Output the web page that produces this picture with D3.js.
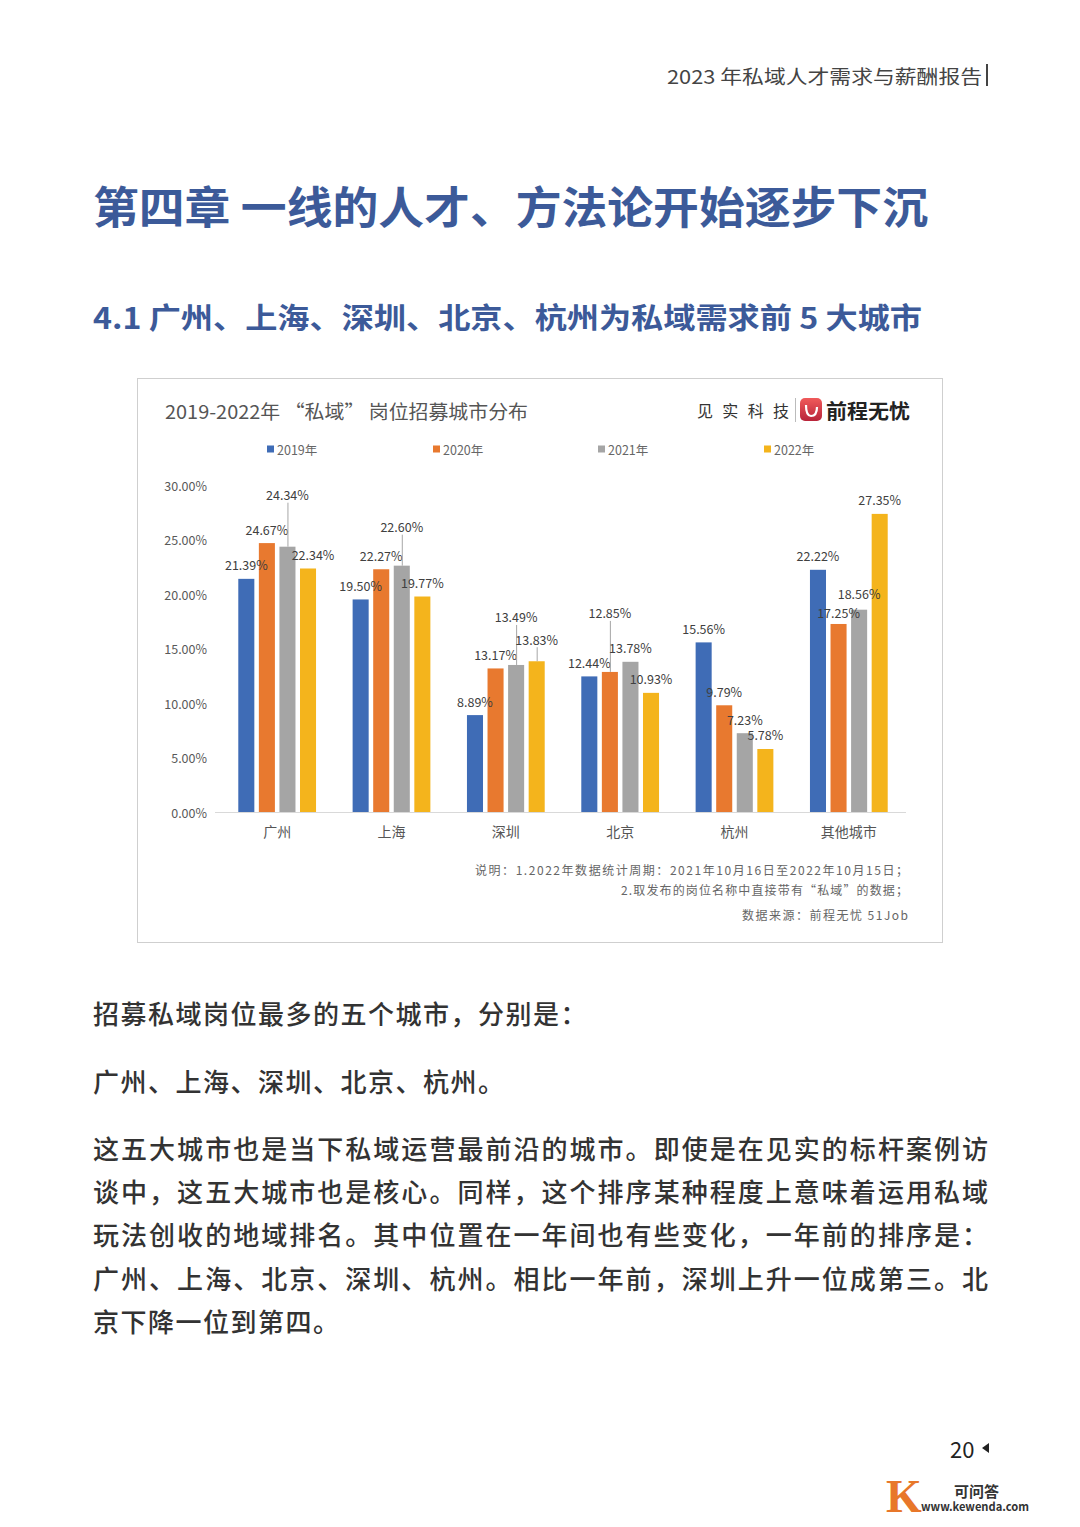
<!DOCTYPE html>
<html>
<head>
<meta charset="utf-8">
<script src="https://cdn.jsdelivr.net/npm/d3@7"></script>
<style>
  html, body { margin: 0; padding: 0; background: #fff; }
  svg { display: block; font-family: "Noto Sans CJK SC", "Noto Sans", sans-serif; }
</style>
</head>
<body>
<svg id="page" width="1080" height="1527"></svg>
<script>
// data
const cities = ["广州", "上海", "深圳", "北京", "杭州", "其他城市"];
const years = ["2019年", "2020年", "2021年", "2022年"];
const v2019 = [21.39, 19.50, 8.89, 12.44, 15.56, 22.22];
const v2020 = [24.67, 22.27, 13.17, 12.85, 9.79, 17.25];
const v2021 = [24.34, 22.60, 13.49, 13.78, 7.23, 18.56];
const v2022 = [22.34, 19.77, 13.83, 10.93, 5.78, 27.35];
const yTicks = [0, 5, 10, 15, 20, 25, 30];
const colors = ["#3f6cb6", "#e8792f", "#a5a5a5", "#f4b41c"];

// labels that sit higher with a leader line (px lift), and small nudges
const labelLift = { "广州|2021年": 38, "上海|2021年": 25, "深圳|2021年": 34, "深圳|2022年": 8, "北京|2020年": 45 };
const labelNudge = { "广州|2022年": 5 };
const labelDrop = { "其他城市|2020年": 3, "其他城市|2021年": -2 };

const svg = d3.select("#page");

// ---- page header & headings
svg.append("text")
    .attr("x", 667).attr("y", 75).attr("dominant-baseline", "central")
    .attr("font-size", 19).attr("fill", "#444")
    .attr("textLength", 315).attr("lengthAdjust", "spacingAndGlyphs")
    .text("2023 年私域人才需求与薪酬报告");
svg.append("rect").attr("x", 986).attr("y", 64).attr("width", 2).attr("height", 22).attr("fill", "#444");

svg.append("text")
    .attr("x", 93).attr("y", 205).attr("dominant-baseline", "central")
    .attr("font-size", 44).attr("font-weight", 700).attr("fill", "#3c5a99")
    .attr("textLength", 835).attr("lengthAdjust", "spacingAndGlyphs")
    .text("第四章 一线的人才、方法论开始逐步下沉");

svg.append("text")
    .attr("x", 93).attr("y", 316).attr("dominant-baseline", "central")
    .attr("font-size", 29).attr("font-weight", 700).attr("fill", "#3c5a99")
    .attr("textLength", 829).attr("lengthAdjust", "spacingAndGlyphs")
    .text("4.1 广州、上海、深圳、北京、杭州为私域需求前 5 大城市");

// ---- chart frame
svg.append("rect")
    .attr("x", 137.5).attr("y", 378.5).attr("width", 805).attr("height", 564)
    .attr("fill", "#fff").attr("stroke", "#cfcfcf");

svg.append("text")
    .attr("x", 165).attr("y", 410).attr("dominant-baseline", "central")
    .attr("font-size", 19).attr("fill", "#555")
    .attr("textLength", 363).attr("lengthAdjust", "spacingAndGlyphs")
    .text("2019-2022年 “私域” 岗位招募城市分布");

// brand marks
svg.append("text")
    .attr("x", 697).attr("y", 410).attr("dominant-baseline", "central")
    .attr("font-size", 16).attr("fill", "#333")
    .attr("textLength", 92).attr("lengthAdjust", "spacing")
    .text("见实科技");
svg.append("line").attr("x1", 795.5).attr("x2", 795.5).attr("y1", 398).attr("y2", 422).attr("stroke", "#bbb");
const grad = svg.append("defs").append("linearGradient").attr("id", "qc").attr("x1", 0).attr("y1", 0).attr("x2", 0).attr("y2", 1);
grad.append("stop").attr("offset", "0%").attr("stop-color", "#f05a5a");
grad.append("stop").attr("offset", "100%").attr("stop-color", "#b8243a");
svg.append("rect").attr("x", 800).attr("y", 398).attr("width", 22).attr("height", 23).attr("rx", 5).attr("fill", "url(#qc)");
svg.append("path").attr("d", "M806,405 Q806,416 811,416 Q817,416 817,407").attr("fill", "none").attr("stroke", "#fff").attr("stroke-width", 2.2);
svg.append("text")
    .attr("x", 826).attr("y", 410).attr("dominant-baseline", "central")
    .attr("font-size", 20).attr("font-weight", 700).attr("fill", "#222")
    .attr("textLength", 84).attr("lengthAdjust", "spacingAndGlyphs")
    .text("前程无忧");

// legend
const legendX = [267, 433, 598, 764];
const legend = svg.append("g").selectAll("g").data(years).join("g")
    .attr("transform", (d, i) => `translate(${legendX[i]},449)`);
legend.append("rect").attr("x", 0).attr("y", -3.5).attr("width", 7).attr("height", 7).attr("fill", (d, i) => colors[i]);
legend.append("text").attr("x", 10).attr("dominant-baseline", "central")
    .attr("font-size", 12.5).attr("fill", "#666").text(d => d);

// ---- scales
const x0 = d3.scaleBand().domain(cities).range([220, 906]).paddingInner(0.32).paddingOuter(0.16);
const x1 = d3.scaleBand().domain(years).range([0, x0.bandwidth()]).paddingInner(0.22);
const y = d3.scaleLinear().domain([0, 30]).range([812, 485]);

// y axis labels
svg.append("g").selectAll("text").data(yTicks).join("text")
    .attr("x", 207).attr("y", d => y(d)).attr("dominant-baseline", "central")
    .attr("text-anchor", "end").attr("font-size", 12.5).attr("fill", "#595959")
    .text(d => d3.format(".2f")(d) + "%");

// baseline
svg.append("line").attr("x1", 215).attr("x2", 906).attr("y1", 812.5).attr("y2", 812.5).attr("stroke", "#d9d9d9");

// category labels
svg.append("g").selectAll("text").data(cities).join("text")
    .attr("x", d => x0(d) + x0.bandwidth() / 2).attr("y", 831).attr("dominant-baseline", "central")
    .attr("text-anchor", "middle").attr("font-size", 14).attr("fill", "#555")
    .text(d => d);

// bars
const series = [v2019, v2020, v2021, v2022];
const rows = [];
cities.forEach((c, ci) => years.forEach((yr, yi) => rows.push({ city: c, year: yr, yi, value: series[yi][ci] })));

svg.append("g").selectAll("rect").data(rows).join("rect")
    .attr("x", d => x0(d.city) + x1(d.year))
    .attr("y", d => y(d.value))
    .attr("width", x1.bandwidth())
    .attr("height", d => y(0) - y(d.value))
    .attr("fill", d => colors[d.yi]);

// value labels
const lab = svg.append("g");
rows.forEach(d => {
  const key = d.city + "|" + d.year;
  const cx = x0(d.city) + x1(d.year) + x1.bandwidth() / 2;
  const top = y(d.value);
  const lift = labelLift[key] || 0;
  const ly = top - 14 - lift + (labelDrop[key] || 0);
  if (lift > 0) {
    lab.append("line").attr("x1", cx + 0.5).attr("x2", cx + 0.5).attr("y1", ly + 8).attr("y2", top)
        .attr("stroke", "#a6a6a6").attr("stroke-width", 1);
  }
  lab.append("text")
      .attr("x", cx + (labelNudge[key] || 0)).attr("y", ly).attr("dominant-baseline", "central")
      .attr("text-anchor", "middle").attr("font-size", 12.5).attr("fill", "#404040")
      .text(d3.format(".2f")(d.value) + "%");
});

// footnotes
svg.append("text").attr("x", 908).attr("y", 869).attr("dominant-baseline", "central").attr("text-anchor", "end")
    .attr("font-size", 12).attr("fill", "#666").attr("textLength", 433).attr("lengthAdjust", "spacing")
    .text("说明：1.2022年数据统计周期：2021年10月16日至2022年10月15日；");
svg.append("text").attr("x", 908).attr("y", 889).attr("dominant-baseline", "central").attr("text-anchor", "end")
    .attr("font-size", 12).attr("fill", "#666").attr("textLength", 287).attr("lengthAdjust", "spacing")
    .text("2.取发布的岗位名称中直接带有“私域”的数据；");
svg.append("text").attr("x", 908).attr("y", 914).attr("dominant-baseline", "central").attr("text-anchor", "end")
    .attr("font-size", 12).attr("fill", "#666").attr("textLength", 166).attr("lengthAdjust", "spacing")
    .text("数据来源：前程无忧 51Job");

// ---- body text
const body = [
  { t: "招募私域岗位最多的五个城市，分别是：", y: 1012 },
  { t: "广州、上海、深圳、北京、杭州。", y: 1080 },
  { t: "这五大城市也是当下私域运营最前沿的城市。即使是在见实的标杆案例访", y: 1147, w: 895 },
  { t: "谈中，这五大城市也是核心。同样，这个排序某种程度上意味着运用私域", y: 1190, w: 895 },
  { t: "玩法创收的地域排名。其中位置在一年间也有些变化，一年前的排序是：", y: 1233, w: 895 },
  { t: "广州、上海、北京、深圳、杭州。相比一年前，深圳上升一位成第三。北", y: 1277, w: 895 },
  { t: "京下降一位到第四。", y: 1320 }
];
body.forEach(l => {
  const t = svg.append("text").attr("x", 93).attr("y", l.y).attr("dominant-baseline", "central")
      .attr("font-size", 26).attr("font-weight", 500).attr("fill", "#333")
      .attr("letter-spacing", 1.5).text(l.t);
  if (l.w) t.attr("letter-spacing", null).attr("textLength", l.w).attr("lengthAdjust", "spacing");
});

// ---- page number & watermark
svg.append("text").attr("x", 950).attr("y", 1448).attr("dominant-baseline", "central")
    .attr("font-size", 22).attr("fill", "#222").text("20");
svg.append("path").attr("d", "M982,1448 L989,1443 L989,1453 Z").attr("fill", "#222");

svg.append("text").attr("x", 886).attr("y", 1496).attr("dominant-baseline", "central")
    .attr("font-size", 46).attr("font-weight", 700).attr("font-family", "Liberation Serif, serif")
    .attr("fill", "#e8772a").text("K");
svg.append("text").attr("x", 954).attr("y", 1490).attr("dominant-baseline", "central")
    .attr("font-size", 15).attr("font-weight", 700).attr("fill", "#333").text("可问答");
svg.append("text").attr("x", 921).attr("y", 1506).attr("dominant-baseline", "central")
    .attr("font-size", 11.5).attr("font-weight", 700).attr("fill", "#333")
    .attr("textLength", 108).attr("lengthAdjust", "spacingAndGlyphs").text("www.kewenda.com");
</script>
</body>
</html>
